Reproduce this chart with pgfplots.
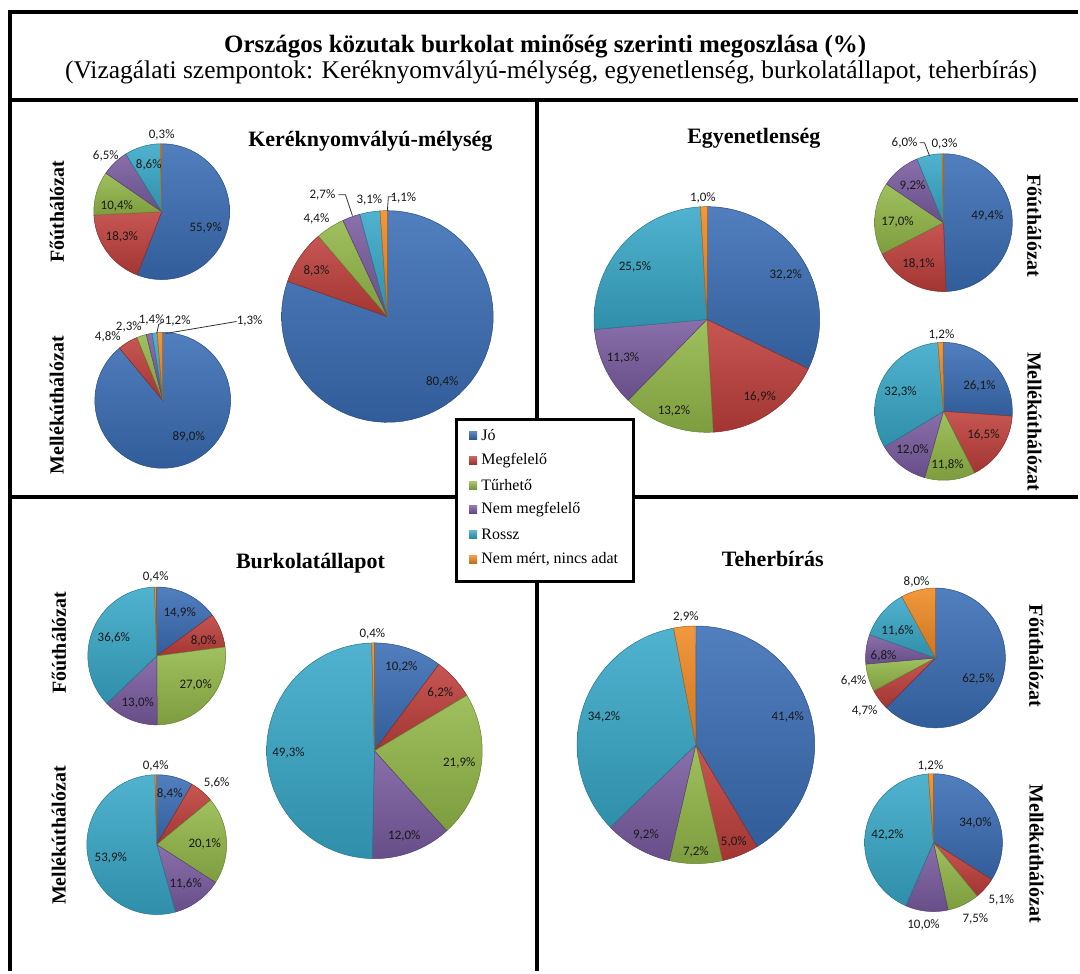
\documentclass[border=0pt]{standalone}
\usepackage{pgfplots}
\pgfplotsset{compat=1.18}
\usepackage{fontspec}
\setmainfont{Liberation Serif}
\newfontfamily\lblfont{Carlito}

% slice colours: Jó, Megfelelő, Tűrhető, Nem megfelelő, Rossz, Nem mért
\definecolor{pc1}{HTML}{3A6DB5}
\definecolor{pc2}{HTML}{BF3F3B}
\definecolor{pc3}{HTML}{93B849}
\definecolor{pc4}{HTML}{7A5CA0}
\definecolor{pc5}{HTML}{38A8C8}
\definecolor{pc6}{HTML}{F08A24}

% \pie{cx}{cy}{r}{six shares in percent}, clockwise from 12 o'clock
\newcommand\pie[4]{%
  \gdef\cum{0}%
  \foreach \v [count=\i] in {#4}{%
    \pgfmathsetmacro\aS{90-3.6*\cum}%
    \pgfmathsetmacro\cumN{\cum+\v}%
    \pgfmathsetmacro\aE{90-3.6*\cumN}%
    \xdef\cum{\cumN}%
    \edef\slice{\noexpand\addplot[draw=pc\i!70!black, line width=0.5pt,
      top color=pc\i!88!white, bottom color=pc\i!85!black,
      domain=\aE:\aS, samples=60]
      ({#1+#3*cos(x)}, {#2-#3*sin(x)}) -- (axis cs:#1,#2) -- cycle;}%
    \slice
  }%
}
\newcommand\pl[3]{\node[font=\lblfont\fontsize{13}{15}\selectfont, text=black!90, inner sep=0pt] at (axis cs:#1,#2) {#3};}
\newcommand\ptitle[3]{\node[font=\bfseries\fontsize{22}{26}\selectfont, inner sep=0pt] at (axis cs:#1,#2) {#3};}
\newcommand\vlab[4]{\node[font=\bfseries\fontsize{20}{24}\selectfont, rotate=#3, inner sep=0pt] at (axis cs:#1,#2) {#4};}
\newcommand\legitem[3]{%
  \fill[top color=#1!80!white, bottom color=#1!80!black] (axis cs:470,#2-4) rectangle (axis cs:478,#2+4);
  \node[anchor=west, font=\fontsize{16}{19}\selectfont, inner sep=0pt] at (axis cs:482,#2) {#3};}

\begin{document}
\begin{tikzpicture}
\begin{axis}[
  width=1080pt, height=973pt, scale only axis,
  xmin=0, xmax=1080, ymin=0, ymax=973, y dir=reverse,
  hide axis, clip=false]

\fill[white] (axis cs:0,0) rectangle (axis cs:1080,973);

% Keréknyomvályú-mélység
\pie{162}{212}{68}{55.9,18.3,10.4,6.5,8.6,0.3}
\pie{163}{401}{68}{89.0,4.8,2.3,1.4,1.2,1.3}
\pie{388}{317}{106}{80.4,8.3,4.4,2.7,3.1,1.1}
% Egyenetlenség
\pie{708}{320}{113}{32.2,16.9,13.2,11.3,25.5,1.0}
\pie{945}{223}{69}{49.4,18.1,17.0,9.2,6.0,0.3}
\pie{945}{412}{69}{26.1,16.5,11.8,12.0,32.3,1.2}
% Burkolatállapot
\pie{157}{657}{69}{14.9,8.0,27.0,13.0,36.6,0.4}
\pie{157}{846}{70}{8.4,5.6,20.1,11.6,53.9,0.4}
\pie{375}{752}{108}{10.2,6.2,21.9,12.0,49.3,0.4}
% Teherbírás
\pie{697}{746}{119}{41.4,5.0,7.2,9.2,34.2,2.9}
\pie{937}{659}{70}{62.5,4.7,6.4,6.8,11.6,8.0}
\pie{935}{844}{69}{34.0,5.1,7.5,10.0,42.2,1.2}

% data labels
\pl{206}{228}{55,9\%}\pl{122}{237}{18,3\%}\pl{117}{206}{10,4\%}
\pl{106}{156}{6,5\%}\pl{149}{165}{8,6\%}\pl{162}{135}{0,3\%}

\pl{189}{438}{89,0\%}\pl{108}{337}{4,8\%}\pl{129}{327}{2,3\%}
\pl{152}{320}{1,4\%}\pl{178}{321}{1,2\%}\pl{250}{321}{1,3\%}
\draw[black!80, line width=0.8pt] (axis cs:237,322) -- (axis cs:166,334);
\draw[black!80, line width=0.8pt] (axis cs:157,334) -- (axis cs:159,325) -- (axis cs:164,322);

\pl{443}{383}{80,4\%}\pl{317}{271}{8,3\%}\pl{317}{219}{4,4\%}
\pl{323}{195}{2,7\%}\pl{370}{200}{3,1\%}\pl{404}{198}{1,1\%}
\draw[black!80, line width=0.8pt] (axis cs:339,195) -- (axis cs:346,195) -- (axis cs:353,216);
\draw[black!80, line width=0.8pt] (axis cs:395,197) -- (axis cs:389,197) -- (axis cs:388,211);

\pl{787}{275}{32,2\%}\pl{761}{398}{16,9\%}\pl{675}{412}{13,2\%}
\pl{624}{358}{11,3\%}\pl{636}{267}{25,5\%}\pl{704}{198}{1,0\%}

\pl{989}{216}{49,4\%}\pl{920}{264}{18,1\%}\pl{899}{222}{17,0\%}
\pl{914}{186}{9,2\%}\pl{906}{143}{6,0\%}\pl{946}{144}{0,3\%}
\draw[black!80, line width=0.8pt] (axis cs:921,143) -- (axis cs:926,143) -- (axis cs:931,156);

\pl{981}{387}{26,1\%}\pl{985}{436}{16,5\%}\pl{949}{466}{11,8\%}
\pl{914}{451}{12,0\%}\pl{902}{393}{32,3\%}\pl{943}{335}{1,2\%}

\pl{180}{614}{14,9\%}\pl{204}{642}{8,0\%}\pl{196}{686}{27,0\%}
\pl{138}{704}{13,0\%}\pl{114}{639}{36,6\%}\pl{156}{578}{0,4\%}

\pl{170}{795}{8,4\%}\pl{217}{784}{5,6\%}\pl{205}{845}{20,1\%}
\pl{186}{885}{11,6\%}\pl{111}{859}{53,9\%}\pl{156}{767}{0,4\%}

\pl{402}{668}{10,2\%}\pl{441}{694}{6,2\%}\pl{460}{764}{21,9\%}
\pl{405}{837}{12,0\%}\pl{289}{754}{49,3\%}\pl{373}{635}{0,4\%}

\pl{789}{718}{41,4\%}\pl{735}{843}{5,0\%}\pl{697}{853}{7,2\%}
\pl{647}{836}{9,2\%}\pl{605}{718}{34,2\%}\pl{687}{618}{2,9\%}

\pl{980}{680}{62,5\%}\pl{866}{712}{4,7\%}\pl{855}{682}{6,4\%}
\pl{885}{657}{6,8\%}\pl{899}{632}{11,6\%}\pl{918}{583}{8,0\%}

\pl{977}{824}{34,0\%}\pl{1003}{901}{5,1\%}\pl{977}{920}{7,5\%}
\pl{925}{926}{10,0\%}\pl{889}{836}{42,2\%}\pl{932}{767}{1,2\%}

% panel titles and network labels
\ptitle{371}{142}{Keréknyomvályú-mélység}
\ptitle{755}{139}{Egyenetlenség}
\ptitle{311}{564}{Burkolatállapot}
\ptitle{774}{560}{Teherbírás}
\vlab{57}{212}{90}{Főúthálózat}
\vlab{57}{406}{90}{Mellékúthálózat}
\vlab{59}{644}{90}{Főúthálózat}
\vlab{59}{837}{90}{Mellékúthálózat}
\vlab{1036}{226}{-90}{Főúthálózat}
\vlab{1036}{422}{-90}{Mellékúthálózat}
\vlab{1038}{657}{-90}{Főúthálózat}
\vlab{1038}{855}{-90}{Mellékúthálózat}

% main title
\node[font=\bfseries\fontsize{25}{30}\selectfont, inner sep=0pt] at (axis cs:546,47) {Országos közutak burkolat minőség szerinti megoszlása (\%)};
\node[font=\fontsize{25.5}{30}\selectfont, inner sep=0pt] at (axis cs:552,73) {(Vizagálati szempontok: Keréknyomvályú-mélység, egyenetlenség, burkolatállapot, teherbírás)};

% frame
\draw[line width=3.5pt] (axis cs:10,12) -- (axis cs:1080,12);
\draw[line width=3.5pt] (axis cs:10,10.25) -- (axis cs:10,973);
\draw[line width=3.5pt] (axis cs:10,100) -- (axis cs:1080,100);
\draw[line width=3.5pt] (axis cs:538,100) -- (axis cs:538,973);
\draw[line width=3.5pt] (axis cs:10,498) -- (axis cs:1080,498);

% legend
\draw[line width=3pt, fill=white] (axis cs:457,420) rectangle (axis cs:635,582);
\legitem{pc1}{436}{Jó}
\legitem{pc2}{461}{Megfelelő}
\legitem{pc3}{486}{Tűrhető}
\legitem{pc4}{510}{Nem megfelelő}
\legitem{pc5}{535}{Rossz}
\legitem{pc6}{560}{Nem mért, nincs adat}
\end{axis}
\end{tikzpicture}
\end{document}
